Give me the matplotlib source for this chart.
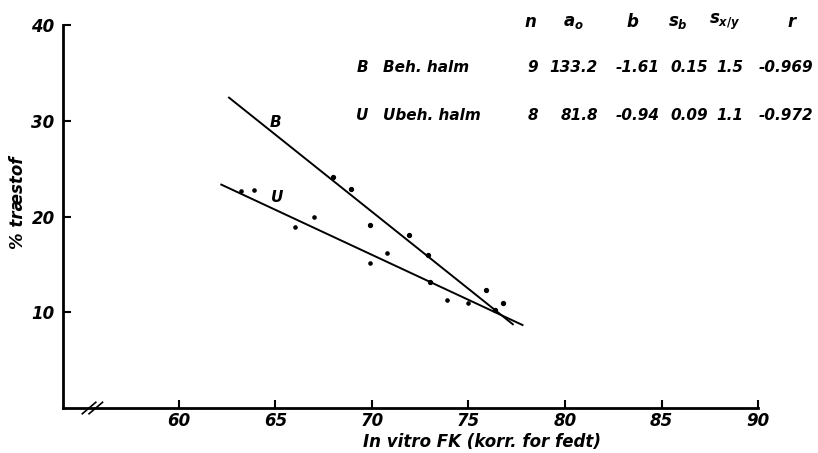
import matplotlib.pyplot as plt
import numpy as np

plt.rcParams['mathtext.fontset'] = 'custom'
plt.rcParams['mathtext.it'] = 'DejaVu Sans:italic:bold'
plt.rcParams['mathtext.rm'] = 'DejaVu Sans:bold'

# regression coefficients (y = a0 + b*x)
groups = ['B', 'U']
names = ['Beh. halm', 'Ubeh. halm']
n_obs = ['9', '8']
a0 = [133.2, 81.8]
b = [-1.61, -0.94]
s_b = ['0.15', '0.09']
s_xy = ['1.5', '1.1']
r = ['-0.969', '-0.972']
line_x = [(62.6, 77.3), (62.2, 77.8)]

# observations
b_x = [68.0, 68.9, 69.9, 71.9, 72.9, 73.0, 75.9, 76.4, 76.8]
b_y = [24.1, 22.9, 19.1, 18.1, 16.0, 13.2, 12.3, 10.2, 11.0]
u_x = [63.2, 63.9, 66.0, 67.0, 69.9, 70.8, 73.9, 75.0]
u_y = [22.7, 22.8, 18.9, 20.0, 15.1, 16.2, 11.3, 11.0]

font = dict(family='DejaVu Sans', style='italic', weight='bold')

fig = plt.figure(figsize=(8.18, 4.53), dpi=100)
ax = fig.add_axes([0.077, 0.0993, 0.8497, 0.8455])

for i in range(2):
    xs = np.array(line_x[i])
    ax.plot(xs, a0[i] + b[i] * xs, color='black', lw=1.4)
ax.plot(b_x, b_y, 'o', color='black', ms=2.8)
ax.plot(u_x, u_y, 'o', color='black', ms=2.3)

ax.text(65.0, 29.8, 'B', fontsize=11, va='center', ha='center', **font)
ax.text(65.1, 22.0, 'U', fontsize=11, va='center', ha='center', **font)

ax.set_xlim(54, 90)
ax.set_ylim(0, 40)
for s in ['top', 'right']:
    ax.spines[s].set_visible(False)
for s in ['left', 'bottom']:
    ax.spines[s].set_linewidth(2)

ax.set_xticks([60, 65, 70, 75, 80, 85, 90])
ax.set_yticks([10, 20, 30, 40])
ax.tick_params(axis='x', direction='in', length=6, width=1.5, pad=3)
ax.tick_params(axis='y', direction='in', length=6, width=1.5, pad=6)
for lab in ax.get_xticklabels() + ax.get_yticklabels():
    lab.set_fontsize(12)
    lab.set_fontstyle('italic')
    lab.set_fontweight('bold')

# axis break marks
for dx in (0.0, 0.35):
    ax.plot([55.0 + dx, 55.7 + dx], [-0.6, 0.6], color='black', lw=1.2, clip_on=False)

ax.set_xlabel('In vitro FK (korr. for fedt)', fontsize=12, **font)
ax.xaxis.label.set_verticalalignment('center')
ax.xaxis.set_label_coords(0.603, -0.089)
ax.set_ylabel('% træstof', fontsize=12, **font)
ax.yaxis.label.set_verticalalignment('center')
ax.yaxis.set_label_coords(-0.065, 0.535)

# statistics table (figure pixel positions)
W, H = 818, 453
def put(x, y, s, ha='center', size=11):
    fig.text(x / W, 1 - y / H, s, fontsize=size, ha=ha, va='center', **font)

heads = ['$n$', '$a_o$', '$b$', '$s_b$', '$s_{x/y}$', '$r$']
for cx, h in zip([530, 573, 633, 678, 725, 793], heads):
    put(cx, 22, h, size=12)

rows_y = [67, 115]
for i in range(2):
    y = rows_y[i]
    put(362, y, groups[i])
    put(383, y, names[i], ha='left')
    put(533, y, n_obs[i])
    put(598, y, f'{a0[i]:.1f}', ha='right')
    put(660, y, f'{b[i]:.2f}', ha='right')
    put(670, y, s_b[i], ha='left')
    put(716, y, s_xy[i], ha='left')
    put(813, y, r[i], ha='right')

plt.savefig('out.png', dpi=100)
